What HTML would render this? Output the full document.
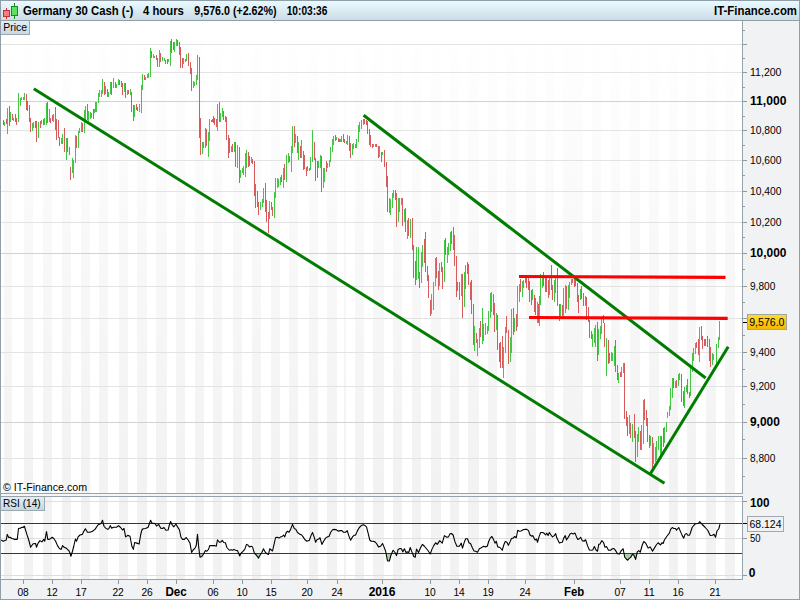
<!DOCTYPE html>
<html><head><meta charset="utf-8"><title>Germany 30 Cash</title>
<style>html,body{margin:0;padding:0;background:#f0f2f4}body{width:800px;height:600px;overflow:hidden;position:relative;font-family:"Liberation Sans",Arial,sans-serif}</style>
</head><body>
<svg width="800" height="600" viewBox="0 0 800 600" style="position:absolute;left:0;top:0" shape-rendering="crispEdges" font-family="Liberation Sans, Arial, sans-serif">
<defs>
<linearGradient id="hg" x1="0" y1="0" x2="0" y2="1"><stop offset="0" stop-color="#e9faff"/><stop offset="1" stop-color="#cbdce5"/></linearGradient>
<linearGradient id="lg" x1="0" y1="0" x2="0" y2="1"><stop offset="0" stop-color="#e2eef4"/><stop offset="1" stop-color="#c6d6de"/></linearGradient>
<linearGradient id="yg" x1="0" y1="0" x2="0" y2="1"><stop offset="0" stop-color="#ffdc30"/><stop offset="1" stop-color="#f2b800"/></linearGradient>
<linearGradient id="sg" x1="0" y1="0" x2="0" y2="1"><stop offset="0" stop-color="#ffffff"/><stop offset="0.5" stop-color="#f8f8f8"/><stop offset="1" stop-color="#f2f2f2"/></linearGradient>
<clipPath id="cp"><rect x="1" y="21" width="741" height="472"/></clipPath>
<clipPath id="cr"><rect x="1" y="497" width="741" height="82"/></clipPath>
<clipPath id="c30"><rect x="1" y="553.5" width="741" height="25"/></clipPath>
</defs>
<rect x="0" y="0" width="800" height="600" fill="#f0f2f4"/>
<rect x="0" y="1" width="800" height="19" fill="url(#hg)"/>
<rect x="0" y="0" width="800" height="1" fill="#909fa7"/>
<rect x="0" y="20" width="800" height="1" fill="#909fa7"/>
<rect x="1" y="21" width="741" height="472" fill="#fff"/>
<rect x="1" y="497" width="741" height="82" fill="#fff"/>
<rect x="4" y="21" width="8" height="472" fill="url(#sg)"/>
<rect x="4" y="497" width="8" height="82" fill="#f2f2f2"/>
<rect x="24" y="21" width="9" height="472" fill="url(#sg)"/>
<rect x="24" y="497" width="9" height="82" fill="#f2f2f2"/>
<rect x="43" y="21" width="9" height="472" fill="url(#sg)"/>
<rect x="43" y="497" width="9" height="82" fill="#f2f2f2"/>
<rect x="62" y="21" width="9" height="472" fill="url(#sg)"/>
<rect x="62" y="497" width="9" height="82" fill="#f2f2f2"/>
<rect x="81" y="21" width="9" height="472" fill="url(#sg)"/>
<rect x="81" y="497" width="9" height="82" fill="#f2f2f2"/>
<rect x="99" y="21" width="9" height="472" fill="url(#sg)"/>
<rect x="99" y="497" width="9" height="82" fill="#f2f2f2"/>
<rect x="119" y="21" width="9" height="472" fill="url(#sg)"/>
<rect x="119" y="497" width="9" height="82" fill="#f2f2f2"/>
<rect x="137" y="21" width="10" height="472" fill="url(#sg)"/>
<rect x="137" y="497" width="10" height="82" fill="#f2f2f2"/>
<rect x="156" y="21" width="11" height="472" fill="url(#sg)"/>
<rect x="156" y="497" width="11" height="82" fill="#f2f2f2"/>
<rect x="176" y="21" width="9" height="472" fill="url(#sg)"/>
<rect x="176" y="497" width="9" height="82" fill="#f2f2f2"/>
<rect x="195" y="21" width="9" height="472" fill="url(#sg)"/>
<rect x="195" y="497" width="9" height="82" fill="#f2f2f2"/>
<rect x="213" y="21" width="9" height="472" fill="url(#sg)"/>
<rect x="213" y="497" width="9" height="82" fill="#f2f2f2"/>
<rect x="233" y="21" width="9" height="472" fill="url(#sg)"/>
<rect x="233" y="497" width="9" height="82" fill="#f2f2f2"/>
<rect x="252" y="21" width="9" height="472" fill="url(#sg)"/>
<rect x="252" y="497" width="9" height="82" fill="#f2f2f2"/>
<rect x="271" y="21" width="9" height="472" fill="url(#sg)"/>
<rect x="271" y="497" width="9" height="82" fill="#f2f2f2"/>
<rect x="289" y="21" width="9" height="472" fill="url(#sg)"/>
<rect x="289" y="497" width="9" height="82" fill="#f2f2f2"/>
<rect x="309" y="21" width="9" height="472" fill="url(#sg)"/>
<rect x="309" y="497" width="9" height="82" fill="#f2f2f2"/>
<rect x="327" y="21" width="10" height="472" fill="url(#sg)"/>
<rect x="327" y="497" width="10" height="82" fill="#f2f2f2"/>
<rect x="344" y="21" width="2" height="472" fill="url(#sg)"/>
<rect x="344" y="497" width="2" height="82" fill="#f2f2f2"/>
<rect x="355" y="21" width="9" height="472" fill="url(#sg)"/>
<rect x="355" y="497" width="9" height="82" fill="#f2f2f2"/>
<rect x="373" y="21" width="11" height="472" fill="url(#sg)"/>
<rect x="373" y="497" width="11" height="82" fill="#f2f2f2"/>
<rect x="393" y="21" width="9" height="472" fill="url(#sg)"/>
<rect x="393" y="497" width="9" height="82" fill="#f2f2f2"/>
<rect x="412" y="21" width="9" height="472" fill="url(#sg)"/>
<rect x="412" y="497" width="9" height="82" fill="#f2f2f2"/>
<rect x="431" y="21" width="10" height="472" fill="url(#sg)"/>
<rect x="431" y="497" width="10" height="82" fill="#f2f2f2"/>
<rect x="450" y="21" width="9" height="472" fill="url(#sg)"/>
<rect x="450" y="497" width="9" height="82" fill="#f2f2f2"/>
<rect x="468" y="21" width="11" height="472" fill="url(#sg)"/>
<rect x="468" y="497" width="11" height="82" fill="#f2f2f2"/>
<rect x="488" y="21" width="9" height="472" fill="url(#sg)"/>
<rect x="488" y="497" width="9" height="82" fill="#f2f2f2"/>
<rect x="506" y="21" width="10" height="472" fill="url(#sg)"/>
<rect x="506" y="497" width="10" height="82" fill="#f2f2f2"/>
<rect x="526" y="21" width="10" height="472" fill="url(#sg)"/>
<rect x="526" y="497" width="10" height="82" fill="#f2f2f2"/>
<rect x="545" y="21" width="9" height="472" fill="url(#sg)"/>
<rect x="545" y="497" width="9" height="82" fill="#f2f2f2"/>
<rect x="563" y="21" width="20" height="472" fill="url(#sg)"/>
<rect x="563" y="497" width="20" height="82" fill="#f2f2f2"/>
<rect x="592" y="21" width="9" height="472" fill="url(#sg)"/>
<rect x="592" y="497" width="9" height="82" fill="#f2f2f2"/>
<rect x="611" y="21" width="9" height="472" fill="url(#sg)"/>
<rect x="611" y="497" width="9" height="82" fill="#f2f2f2"/>
<rect x="630" y="21" width="10" height="472" fill="url(#sg)"/>
<rect x="630" y="497" width="10" height="82" fill="#f2f2f2"/>
<rect x="649" y="21" width="10" height="472" fill="url(#sg)"/>
<rect x="649" y="497" width="10" height="82" fill="#f2f2f2"/>
<rect x="669" y="21" width="9" height="472" fill="url(#sg)"/>
<rect x="669" y="497" width="9" height="82" fill="#f2f2f2"/>
<rect x="687" y="21" width="9" height="472" fill="url(#sg)"/>
<rect x="687" y="497" width="9" height="82" fill="#f2f2f2"/>
<rect x="706" y="21" width="10" height="472" fill="url(#sg)"/>
<rect x="706" y="497" width="10" height="82" fill="#f2f2f2"/>
<rect x="725" y="21" width="10" height="472" fill="url(#sg)"/>
<rect x="725" y="497" width="10" height="82" fill="#f2f2f2"/>
<rect x="1" y="458" width="741" height="1" fill="#e3e3e3"/>
<rect x="1" y="422" width="741" height="1" fill="#d2d2d2"/>
<rect x="1" y="386" width="741" height="1" fill="#e3e3e3"/>
<rect x="1" y="352" width="741" height="1" fill="#e3e3e3"/>
<rect x="1" y="318" width="741" height="1" fill="#e3e3e3"/>
<rect x="1" y="286" width="741" height="1" fill="#e3e3e3"/>
<rect x="1" y="253" width="741" height="1" fill="#d2d2d2"/>
<rect x="1" y="222" width="741" height="1" fill="#e3e3e3"/>
<rect x="1" y="191" width="741" height="1" fill="#e3e3e3"/>
<rect x="1" y="160" width="741" height="1" fill="#e3e3e3"/>
<rect x="1" y="130" width="741" height="1" fill="#e3e3e3"/>
<rect x="1" y="101" width="741" height="1" fill="#d2d2d2"/>
<rect x="1" y="72" width="741" height="1" fill="#e3e3e3"/>
<rect x="1" y="44" width="741" height="1" fill="#e3e3e3"/>
<rect x="1" y="501" width="741" height="1" fill="#dedede"/>
<rect x="1" y="538" width="741" height="1" fill="#dedede"/>
<rect x="1" y="575" width="741" height="1" fill="#dedede"/>
<rect x="742" y="21" width="1" height="473" fill="#97a3aa"/>
<rect x="0" y="493" width="743" height="1" fill="#97a3aa"/>
<rect x="0" y="494" width="743" height="2" fill="#f4f6f7"/>
<rect x="0" y="496" width="743" height="1" fill="#97a3aa"/>
<rect x="742" y="496" width="1" height="84" fill="#97a3aa"/>
<rect x="0" y="579" width="743" height="1" fill="#97a3aa"/>
<g clip-path="url(#cp)">
<rect x="3" y="120" width="1" height="5" fill="#d85a5a"/>
<rect x="4" y="122" width="1" height="4" fill="#41c741"/>
<rect x="6" y="119" width="1" height="5" fill="#d85a5a"/>
<rect x="7" y="108" width="1" height="26" fill="#41c741"/>
<rect x="9" y="106" width="1" height="20" fill="#d85a5a"/>
<rect x="10" y="112" width="1" height="10" fill="#41c741"/>
<rect x="12" y="114" width="1" height="6" fill="#d85a5a"/>
<rect x="13" y="118" width="1" height="3" fill="#41c741"/>
<rect x="15" y="114" width="1" height="8" fill="#d85a5a"/>
<rect x="16" y="118" width="1" height="7" fill="#d85a5a"/>
<rect x="18" y="93" width="1" height="29" fill="#41c741"/>
<rect x="20" y="98" width="1" height="8" fill="#41c741"/>
<rect x="21" y="97" width="1" height="3" fill="#41c741"/>
<rect x="23" y="97" width="1" height="3" fill="#41c741"/>
<rect x="24" y="93" width="1" height="7" fill="#41c741"/>
<rect x="26" y="94" width="1" height="16" fill="#d85a5a"/>
<rect x="27" y="101" width="1" height="10" fill="#d85a5a"/>
<rect x="29" y="105" width="1" height="17" fill="#d85a5a"/>
<rect x="30" y="118" width="1" height="14" fill="#d85a5a"/>
<rect x="32" y="123" width="1" height="8" fill="#41c741"/>
<rect x="33" y="122" width="1" height="6" fill="#41c741"/>
<rect x="35" y="121" width="1" height="7" fill="#d85a5a"/>
<rect x="36" y="121" width="1" height="21" fill="#d85a5a"/>
<rect x="38" y="122" width="1" height="16" fill="#41c741"/>
<rect x="40" y="121" width="1" height="7" fill="#d85a5a"/>
<rect x="41" y="120" width="1" height="4" fill="#41c741"/>
<rect x="43" y="119" width="1" height="6" fill="#d85a5a"/>
<rect x="44" y="118" width="1" height="7" fill="#41c741"/>
<rect x="46" y="103" width="1" height="22" fill="#41c741"/>
<rect x="47" y="102" width="1" height="21" fill="#d85a5a"/>
<rect x="49" y="109" width="1" height="13" fill="#41c741"/>
<rect x="50" y="118" width="1" height="5" fill="#d85a5a"/>
<rect x="52" y="115" width="1" height="6" fill="#d85a5a"/>
<rect x="53" y="114" width="1" height="8" fill="#41c741"/>
<rect x="55" y="107" width="1" height="23" fill="#d85a5a"/>
<rect x="56" y="119" width="1" height="21" fill="#d85a5a"/>
<rect x="58" y="120" width="1" height="18" fill="#d85a5a"/>
<rect x="59" y="137" width="1" height="9" fill="#d85a5a"/>
<rect x="61" y="138" width="1" height="6" fill="#41c741"/>
<rect x="62" y="134" width="1" height="10" fill="#41c741"/>
<rect x="64" y="128" width="1" height="24" fill="#d85a5a"/>
<rect x="66" y="138" width="1" height="22" fill="#41c741"/>
<rect x="67" y="138" width="1" height="14" fill="#d85a5a"/>
<rect x="69" y="147" width="1" height="8" fill="#d85a5a"/>
<rect x="70" y="167" width="1" height="13" fill="#d85a5a"/>
<rect x="72" y="158" width="1" height="15" fill="#41c741"/>
<rect x="73" y="160" width="1" height="18" fill="#41c741"/>
<rect x="75" y="135" width="1" height="28" fill="#41c741"/>
<rect x="76" y="136" width="1" height="12" fill="#d85a5a"/>
<rect x="78" y="131" width="1" height="17" fill="#41c741"/>
<rect x="79" y="128" width="1" height="5" fill="#41c741"/>
<rect x="81" y="122" width="1" height="10" fill="#41c741"/>
<rect x="82" y="123" width="1" height="9" fill="#d85a5a"/>
<rect x="84" y="110" width="1" height="23" fill="#41c741"/>
<rect x="85" y="106" width="1" height="14" fill="#41c741"/>
<rect x="87" y="104" width="1" height="16" fill="#d85a5a"/>
<rect x="88" y="111" width="1" height="10" fill="#41c741"/>
<rect x="90" y="112" width="1" height="7" fill="#41c741"/>
<rect x="91" y="113" width="1" height="5" fill="#41c741"/>
<rect x="93" y="109" width="1" height="10" fill="#d85a5a"/>
<rect x="94" y="109" width="1" height="4" fill="#41c741"/>
<rect x="95" y="102" width="1" height="10" fill="#41c741"/>
<rect x="96" y="102" width="1" height="10" fill="#41c741"/>
<rect x="98" y="93" width="1" height="10" fill="#41c741"/>
<rect x="99" y="90" width="1" height="7" fill="#41c741"/>
<rect x="101" y="90" width="1" height="7" fill="#41c741"/>
<rect x="102" y="79" width="1" height="15" fill="#41c741"/>
<rect x="104" y="82" width="1" height="13" fill="#d85a5a"/>
<rect x="105" y="86" width="1" height="8" fill="#41c741"/>
<rect x="107" y="89" width="1" height="8" fill="#d85a5a"/>
<rect x="108" y="92" width="1" height="5" fill="#41c741"/>
<rect x="110" y="82" width="1" height="12" fill="#41c741"/>
<rect x="111" y="82" width="1" height="13" fill="#d85a5a"/>
<rect x="113" y="78" width="1" height="10" fill="#41c741"/>
<rect x="115" y="82" width="1" height="6" fill="#d85a5a"/>
<rect x="116" y="84" width="1" height="4" fill="#41c741"/>
<rect x="118" y="79" width="1" height="6" fill="#41c741"/>
<rect x="119" y="80" width="1" height="5" fill="#d85a5a"/>
<rect x="121" y="81" width="1" height="6" fill="#d85a5a"/>
<rect x="122" y="83" width="1" height="12" fill="#d85a5a"/>
<rect x="124" y="83" width="1" height="9" fill="#41c741"/>
<rect x="125" y="83" width="1" height="15" fill="#d85a5a"/>
<rect x="127" y="90" width="1" height="5" fill="#41c741"/>
<rect x="128" y="90" width="1" height="4" fill="#d85a5a"/>
<rect x="130" y="89" width="1" height="6" fill="#41c741"/>
<rect x="131" y="92" width="1" height="20" fill="#d85a5a"/>
<rect x="133" y="105" width="1" height="16" fill="#d85a5a"/>
<rect x="134" y="105" width="1" height="12" fill="#41c741"/>
<rect x="136" y="104" width="1" height="6" fill="#d85a5a"/>
<rect x="137" y="107" width="1" height="4" fill="#d85a5a"/>
<rect x="139" y="104" width="1" height="8" fill="#41c741"/>
<rect x="141" y="85" width="1" height="28" fill="#41c741"/>
<rect x="142" y="74" width="1" height="16" fill="#41c741"/>
<rect x="144" y="75" width="1" height="5" fill="#d85a5a"/>
<rect x="145" y="77" width="1" height="3" fill="#41c741"/>
<rect x="147" y="74" width="1" height="4" fill="#41c741"/>
<rect x="148" y="73" width="1" height="5" fill="#41c741"/>
<rect x="150" y="48" width="1" height="29" fill="#41c741"/>
<rect x="151" y="51" width="1" height="7" fill="#d85a5a"/>
<rect x="153" y="54" width="1" height="4" fill="#41c741"/>
<rect x="154" y="56" width="1" height="2" fill="#41c741"/>
<rect x="156" y="55" width="1" height="5" fill="#d85a5a"/>
<rect x="157" y="58" width="1" height="9" fill="#d85a5a"/>
<rect x="159" y="50" width="1" height="17" fill="#41c741"/>
<rect x="160" y="53" width="1" height="9" fill="#d85a5a"/>
<rect x="162" y="57" width="1" height="4" fill="#41c741"/>
<rect x="164" y="58" width="1" height="3" fill="#41c741"/>
<rect x="165" y="60" width="1" height="4" fill="#d85a5a"/>
<rect x="167" y="59" width="1" height="5" fill="#d85a5a"/>
<rect x="168" y="59" width="1" height="3" fill="#41c741"/>
<rect x="170" y="41" width="1" height="25" fill="#41c741"/>
<rect x="171" y="39" width="1" height="14" fill="#d85a5a"/>
<rect x="173" y="42" width="1" height="8" fill="#d85a5a"/>
<rect x="174" y="42" width="1" height="10" fill="#41c741"/>
<rect x="176" y="39" width="1" height="7" fill="#41c741"/>
<rect x="177" y="40" width="1" height="6" fill="#d85a5a"/>
<rect x="179" y="42" width="1" height="13" fill="#d85a5a"/>
<rect x="180" y="47" width="1" height="21" fill="#d85a5a"/>
<rect x="182" y="58" width="1" height="10" fill="#d85a5a"/>
<rect x="183" y="58" width="1" height="6" fill="#41c741"/>
<rect x="185" y="59" width="1" height="3" fill="#41c741"/>
<rect x="186" y="54" width="1" height="7" fill="#41c741"/>
<rect x="188" y="53" width="1" height="13" fill="#d85a5a"/>
<rect x="190" y="62" width="1" height="12" fill="#d85a5a"/>
<rect x="191" y="68" width="1" height="23" fill="#d85a5a"/>
<rect x="193" y="81" width="1" height="7" fill="#41c741"/>
<rect x="194" y="82" width="1" height="4" fill="#41c741"/>
<rect x="196" y="75" width="1" height="10" fill="#41c741"/>
<rect x="197" y="55" width="1" height="25" fill="#41c741"/>
<rect x="199" y="57" width="1" height="81" fill="#d85a5a"/>
<rect x="200" y="118" width="1" height="37" fill="#d85a5a"/>
<rect x="202" y="142" width="1" height="12" fill="#41c741"/>
<rect x="203" y="142" width="1" height="6" fill="#41c741"/>
<rect x="205" y="128" width="1" height="20" fill="#41c741"/>
<rect x="206" y="129" width="1" height="17" fill="#d85a5a"/>
<rect x="208" y="132" width="1" height="25" fill="#41c741"/>
<rect x="209" y="119" width="1" height="22" fill="#41c741"/>
<rect x="211" y="120" width="1" height="2" fill="#d85a5a"/>
<rect x="212" y="119" width="1" height="3" fill="#d85a5a"/>
<rect x="213" y="116" width="1" height="7" fill="#d85a5a"/>
<rect x="214" y="118" width="1" height="7" fill="#d85a5a"/>
<rect x="216" y="119" width="1" height="8" fill="#d85a5a"/>
<rect x="217" y="104" width="1" height="27" fill="#41c741"/>
<rect x="219" y="102" width="1" height="20" fill="#d85a5a"/>
<rect x="220" y="113" width="1" height="9" fill="#41c741"/>
<rect x="222" y="108" width="1" height="9" fill="#41c741"/>
<rect x="223" y="111" width="1" height="9" fill="#d85a5a"/>
<rect x="225" y="116" width="1" height="6" fill="#d85a5a"/>
<rect x="226" y="117" width="1" height="23" fill="#d85a5a"/>
<rect x="228" y="135" width="1" height="23" fill="#d85a5a"/>
<rect x="229" y="138" width="1" height="15" fill="#d85a5a"/>
<rect x="231" y="146" width="1" height="6" fill="#41c741"/>
<rect x="232" y="144" width="1" height="8" fill="#d85a5a"/>
<rect x="234" y="142" width="1" height="10" fill="#41c741"/>
<rect x="235" y="142" width="1" height="25" fill="#d85a5a"/>
<rect x="237" y="145" width="1" height="23" fill="#41c741"/>
<rect x="239" y="147" width="1" height="36" fill="#d85a5a"/>
<rect x="240" y="170" width="1" height="8" fill="#41c741"/>
<rect x="242" y="168" width="1" height="5" fill="#41c741"/>
<rect x="243" y="166" width="1" height="9" fill="#41c741"/>
<rect x="245" y="153" width="1" height="24" fill="#41c741"/>
<rect x="246" y="150" width="1" height="18" fill="#41c741"/>
<rect x="248" y="152" width="1" height="15" fill="#d85a5a"/>
<rect x="249" y="156" width="1" height="10" fill="#d85a5a"/>
<rect x="251" y="157" width="1" height="6" fill="#41c741"/>
<rect x="252" y="159" width="1" height="5" fill="#d85a5a"/>
<rect x="254" y="161" width="1" height="35" fill="#d85a5a"/>
<rect x="255" y="184" width="1" height="24" fill="#d85a5a"/>
<rect x="257" y="191" width="1" height="16" fill="#d85a5a"/>
<rect x="258" y="202" width="1" height="13" fill="#d85a5a"/>
<rect x="260" y="202" width="1" height="8" fill="#41c741"/>
<rect x="262" y="199" width="1" height="8" fill="#41c741"/>
<rect x="263" y="188" width="1" height="15" fill="#41c741"/>
<rect x="265" y="183" width="1" height="29" fill="#d85a5a"/>
<rect x="266" y="200" width="1" height="22" fill="#d85a5a"/>
<rect x="268" y="212" width="1" height="21" fill="#d85a5a"/>
<rect x="269" y="201" width="1" height="18" fill="#41c741"/>
<rect x="271" y="202" width="1" height="8" fill="#d85a5a"/>
<rect x="272" y="207" width="1" height="9" fill="#d85a5a"/>
<rect x="274" y="192" width="1" height="26" fill="#41c741"/>
<rect x="275" y="178" width="1" height="20" fill="#41c741"/>
<rect x="277" y="178" width="1" height="10" fill="#41c741"/>
<rect x="278" y="179" width="1" height="8" fill="#41c741"/>
<rect x="280" y="177" width="1" height="8" fill="#41c741"/>
<rect x="281" y="175" width="1" height="7" fill="#d85a5a"/>
<rect x="283" y="168" width="1" height="20" fill="#41c741"/>
<rect x="284" y="164" width="1" height="16" fill="#d85a5a"/>
<rect x="286" y="155" width="1" height="27" fill="#41c741"/>
<rect x="288" y="153" width="1" height="10" fill="#41c741"/>
<rect x="289" y="156" width="1" height="6" fill="#d85a5a"/>
<rect x="291" y="146" width="1" height="26" fill="#41c741"/>
<rect x="292" y="126" width="1" height="27" fill="#41c741"/>
<rect x="294" y="126" width="1" height="21" fill="#d85a5a"/>
<rect x="295" y="134" width="1" height="9" fill="#41c741"/>
<rect x="297" y="136" width="1" height="17" fill="#d85a5a"/>
<rect x="298" y="142" width="1" height="18" fill="#41c741"/>
<rect x="300" y="146" width="1" height="12" fill="#d85a5a"/>
<rect x="301" y="140" width="1" height="18" fill="#41c741"/>
<rect x="303" y="151" width="1" height="19" fill="#d85a5a"/>
<rect x="304" y="155" width="1" height="14" fill="#d85a5a"/>
<rect x="306" y="167" width="1" height="9" fill="#d85a5a"/>
<rect x="307" y="166" width="1" height="5" fill="#41c741"/>
<rect x="309" y="168" width="1" height="3" fill="#41c741"/>
<rect x="310" y="157" width="1" height="13" fill="#41c741"/>
<rect x="312" y="130" width="1" height="32" fill="#41c741"/>
<rect x="314" y="142" width="1" height="18" fill="#d85a5a"/>
<rect x="315" y="158" width="1" height="23" fill="#d85a5a"/>
<rect x="317" y="161" width="1" height="17" fill="#d85a5a"/>
<rect x="318" y="161" width="1" height="7" fill="#41c741"/>
<rect x="320" y="155" width="1" height="13" fill="#41c741"/>
<rect x="321" y="156" width="1" height="36" fill="#d85a5a"/>
<rect x="323" y="168" width="1" height="20" fill="#41c741"/>
<rect x="324" y="168" width="1" height="14" fill="#41c741"/>
<rect x="326" y="161" width="1" height="11" fill="#d85a5a"/>
<rect x="327" y="163" width="1" height="5" fill="#41c741"/>
<rect x="329" y="160" width="1" height="7" fill="#41c741"/>
<rect x="330" y="147" width="1" height="15" fill="#41c741"/>
<rect x="332" y="139" width="1" height="13" fill="#41c741"/>
<rect x="333" y="136" width="1" height="9" fill="#41c741"/>
<rect x="335" y="135" width="1" height="6" fill="#d85a5a"/>
<rect x="336" y="137" width="1" height="3" fill="#41c741"/>
<rect x="338" y="138" width="1" height="4" fill="#d85a5a"/>
<rect x="339" y="139" width="1" height="3" fill="#d85a5a"/>
<rect x="340" y="139" width="1" height="3" fill="#41c741"/>
<rect x="341" y="136" width="1" height="6" fill="#41c741"/>
<rect x="343" y="134" width="1" height="8" fill="#d85a5a"/>
<rect x="344" y="139" width="1" height="4" fill="#d85a5a"/>
<rect x="346" y="141" width="1" height="3" fill="#41c741"/>
<rect x="347" y="135" width="1" height="10" fill="#41c741"/>
<rect x="349" y="136" width="1" height="15" fill="#d85a5a"/>
<rect x="350" y="143" width="1" height="15" fill="#d85a5a"/>
<rect x="352" y="144" width="1" height="11" fill="#41c741"/>
<rect x="353" y="143" width="1" height="6" fill="#41c741"/>
<rect x="355" y="144" width="1" height="4" fill="#41c741"/>
<rect x="356" y="139" width="1" height="9" fill="#41c741"/>
<rect x="358" y="125" width="1" height="17" fill="#41c741"/>
<rect x="359" y="122" width="1" height="10" fill="#41c741"/>
<rect x="361" y="120" width="1" height="9" fill="#41c741"/>
<rect x="363" y="119" width="1" height="6" fill="#41c741"/>
<rect x="364" y="119" width="1" height="5" fill="#d85a5a"/>
<rect x="366" y="120" width="1" height="5" fill="#d85a5a"/>
<rect x="367" y="121" width="1" height="13" fill="#d85a5a"/>
<rect x="369" y="129" width="1" height="16" fill="#d85a5a"/>
<rect x="370" y="135" width="1" height="12" fill="#d85a5a"/>
<rect x="372" y="144" width="1" height="4" fill="#d85a5a"/>
<rect x="373" y="144" width="1" height="3" fill="#41c741"/>
<rect x="375" y="144" width="1" height="3" fill="#41c741"/>
<rect x="376" y="144" width="1" height="3" fill="#d85a5a"/>
<rect x="378" y="146" width="1" height="12" fill="#d85a5a"/>
<rect x="379" y="146" width="1" height="11" fill="#41c741"/>
<rect x="381" y="152" width="1" height="10" fill="#d85a5a"/>
<rect x="382" y="152" width="1" height="3" fill="#41c741"/>
<rect x="384" y="150" width="1" height="17" fill="#d85a5a"/>
<rect x="386" y="162" width="1" height="25" fill="#d85a5a"/>
<rect x="387" y="176" width="1" height="36" fill="#d85a5a"/>
<rect x="389" y="198" width="1" height="15" fill="#41c741"/>
<rect x="390" y="199" width="1" height="16" fill="#41c741"/>
<rect x="392" y="193" width="1" height="15" fill="#41c741"/>
<rect x="393" y="190" width="1" height="8" fill="#41c741"/>
<rect x="395" y="190" width="1" height="10" fill="#d85a5a"/>
<rect x="396" y="193" width="1" height="34" fill="#d85a5a"/>
<rect x="398" y="198" width="1" height="24" fill="#41c741"/>
<rect x="399" y="198" width="1" height="14" fill="#41c741"/>
<rect x="401" y="198" width="1" height="7" fill="#41c741"/>
<rect x="402" y="198" width="1" height="28" fill="#d85a5a"/>
<rect x="404" y="209" width="1" height="13" fill="#41c741"/>
<rect x="405" y="208" width="1" height="24" fill="#d85a5a"/>
<rect x="407" y="220" width="1" height="19" fill="#41c741"/>
<rect x="408" y="218" width="1" height="18" fill="#d85a5a"/>
<rect x="410" y="219" width="1" height="19" fill="#41c741"/>
<rect x="412" y="218" width="1" height="32" fill="#d85a5a"/>
<rect x="413" y="245" width="1" height="33" fill="#d85a5a"/>
<rect x="415" y="261" width="1" height="24" fill="#d85a5a"/>
<rect x="416" y="247" width="1" height="33" fill="#41c741"/>
<rect x="418" y="247" width="1" height="32" fill="#41c741"/>
<rect x="419" y="272" width="1" height="16" fill="#d85a5a"/>
<rect x="421" y="252" width="1" height="31" fill="#41c741"/>
<rect x="422" y="245" width="1" height="22" fill="#41c741"/>
<rect x="424" y="239" width="1" height="24" fill="#d85a5a"/>
<rect x="425" y="232" width="1" height="40" fill="#d85a5a"/>
<rect x="427" y="266" width="1" height="15" fill="#d85a5a"/>
<rect x="428" y="275" width="1" height="23" fill="#d85a5a"/>
<rect x="430" y="300" width="1" height="16" fill="#d85a5a"/>
<rect x="431" y="294" width="1" height="20" fill="#41c741"/>
<rect x="433" y="282" width="1" height="28" fill="#41c741"/>
<rect x="435" y="258" width="1" height="28" fill="#41c741"/>
<rect x="436" y="257" width="1" height="21" fill="#d85a5a"/>
<rect x="438" y="271" width="1" height="19" fill="#d85a5a"/>
<rect x="439" y="263" width="1" height="23" fill="#41c741"/>
<rect x="441" y="262" width="1" height="10" fill="#d85a5a"/>
<rect x="442" y="267" width="1" height="22" fill="#d85a5a"/>
<rect x="444" y="240" width="1" height="42" fill="#41c741"/>
<rect x="445" y="238" width="1" height="17" fill="#d85a5a"/>
<rect x="447" y="247" width="1" height="16" fill="#41c741"/>
<rect x="448" y="243" width="1" height="12" fill="#41c741"/>
<rect x="450" y="232" width="1" height="19" fill="#41c741"/>
<rect x="451" y="231" width="1" height="13" fill="#d85a5a"/>
<rect x="453" y="227" width="1" height="23" fill="#d85a5a"/>
<rect x="454" y="235" width="1" height="31" fill="#d85a5a"/>
<rect x="456" y="256" width="1" height="41" fill="#d85a5a"/>
<rect x="457" y="282" width="1" height="9" fill="#d85a5a"/>
<rect x="459" y="282" width="1" height="18" fill="#d85a5a"/>
<rect x="461" y="274" width="1" height="22" fill="#41c741"/>
<rect x="462" y="274" width="1" height="44" fill="#d85a5a"/>
<rect x="464" y="272" width="1" height="35" fill="#41c741"/>
<rect x="465" y="265" width="1" height="24" fill="#41c741"/>
<rect x="467" y="262" width="1" height="12" fill="#d85a5a"/>
<rect x="468" y="264" width="1" height="21" fill="#d85a5a"/>
<rect x="470" y="282" width="1" height="18" fill="#d85a5a"/>
<rect x="471" y="280" width="1" height="34" fill="#d85a5a"/>
<rect x="473" y="304" width="1" height="41" fill="#d85a5a"/>
<rect x="474" y="326" width="1" height="25" fill="#41c741"/>
<rect x="476" y="333" width="1" height="10" fill="#d85a5a"/>
<rect x="477" y="339" width="1" height="17" fill="#41c741"/>
<rect x="479" y="328" width="1" height="20" fill="#41c741"/>
<rect x="480" y="321" width="1" height="16" fill="#d85a5a"/>
<rect x="482" y="308" width="1" height="36" fill="#41c741"/>
<rect x="483" y="324" width="1" height="17" fill="#41c741"/>
<rect x="485" y="323" width="1" height="12" fill="#41c741"/>
<rect x="487" y="326" width="1" height="8" fill="#41c741"/>
<rect x="488" y="311" width="1" height="20" fill="#41c741"/>
<rect x="490" y="293" width="1" height="25" fill="#41c741"/>
<rect x="491" y="292" width="1" height="20" fill="#41c741"/>
<rect x="493" y="294" width="1" height="21" fill="#d85a5a"/>
<rect x="494" y="303" width="1" height="29" fill="#d85a5a"/>
<rect x="496" y="313" width="1" height="17" fill="#41c741"/>
<rect x="497" y="315" width="1" height="35" fill="#d85a5a"/>
<rect x="499" y="343" width="1" height="19" fill="#d85a5a"/>
<rect x="500" y="342" width="1" height="26" fill="#d85a5a"/>
<rect x="502" y="336" width="1" height="32" fill="#d85a5a"/>
<rect x="503" y="347" width="1" height="31" fill="#41c741"/>
<rect x="505" y="327" width="1" height="26" fill="#41c741"/>
<rect x="506" y="316" width="1" height="17" fill="#d85a5a"/>
<rect x="508" y="330" width="1" height="34" fill="#d85a5a"/>
<rect x="510" y="337" width="1" height="25" fill="#41c741"/>
<rect x="511" y="309" width="1" height="44" fill="#41c741"/>
<rect x="513" y="308" width="1" height="27" fill="#d85a5a"/>
<rect x="514" y="318" width="1" height="14" fill="#41c741"/>
<rect x="516" y="314" width="1" height="17" fill="#d85a5a"/>
<rect x="517" y="286" width="1" height="41" fill="#41c741"/>
<rect x="519" y="284" width="1" height="18" fill="#41c741"/>
<rect x="520" y="279" width="1" height="13" fill="#d85a5a"/>
<rect x="522" y="281" width="1" height="16" fill="#41c741"/>
<rect x="523" y="280" width="1" height="8" fill="#41c741"/>
<rect x="525" y="278" width="1" height="5" fill="#d85a5a"/>
<rect x="526" y="277" width="1" height="11" fill="#d85a5a"/>
<rect x="528" y="278" width="1" height="12" fill="#d85a5a"/>
<rect x="529" y="281" width="1" height="21" fill="#d85a5a"/>
<rect x="531" y="290" width="1" height="15" fill="#d85a5a"/>
<rect x="532" y="289" width="1" height="11" fill="#41c741"/>
<rect x="534" y="295" width="1" height="17" fill="#d85a5a"/>
<rect x="535" y="298" width="1" height="17" fill="#d85a5a"/>
<rect x="537" y="302" width="1" height="21" fill="#41c741"/>
<rect x="538" y="304" width="1" height="19" fill="#d85a5a"/>
<rect x="539" y="296" width="1" height="30" fill="#41c741"/>
<rect x="540" y="274" width="1" height="31" fill="#41c741"/>
<rect x="542" y="277" width="1" height="11" fill="#41c741"/>
<rect x="543" y="272" width="1" height="14" fill="#d85a5a"/>
<rect x="545" y="278" width="1" height="14" fill="#d85a5a"/>
<rect x="546" y="278" width="1" height="14" fill="#d85a5a"/>
<rect x="548" y="280" width="1" height="18" fill="#d85a5a"/>
<rect x="549" y="278" width="1" height="17" fill="#41c741"/>
<rect x="551" y="265" width="1" height="25" fill="#d85a5a"/>
<rect x="552" y="285" width="1" height="15" fill="#d85a5a"/>
<rect x="554" y="280" width="1" height="22" fill="#41c741"/>
<rect x="555" y="278" width="1" height="15" fill="#41c741"/>
<rect x="557" y="268" width="1" height="38" fill="#d85a5a"/>
<rect x="559" y="304" width="1" height="17" fill="#d85a5a"/>
<rect x="560" y="304" width="1" height="12" fill="#41c741"/>
<rect x="562" y="305" width="1" height="11" fill="#d85a5a"/>
<rect x="563" y="288" width="1" height="28" fill="#41c741"/>
<rect x="565" y="285" width="1" height="28" fill="#41c741"/>
<rect x="566" y="286" width="1" height="23" fill="#d85a5a"/>
<rect x="568" y="285" width="1" height="25" fill="#41c741"/>
<rect x="569" y="282" width="1" height="16" fill="#41c741"/>
<rect x="571" y="279" width="1" height="6" fill="#41c741"/>
<rect x="572" y="279" width="1" height="4" fill="#d85a5a"/>
<rect x="574" y="279" width="1" height="8" fill="#d85a5a"/>
<rect x="575" y="280" width="1" height="6" fill="#d85a5a"/>
<rect x="577" y="283" width="1" height="19" fill="#d85a5a"/>
<rect x="578" y="295" width="1" height="18" fill="#d85a5a"/>
<rect x="580" y="289" width="1" height="11" fill="#41c741"/>
<rect x="581" y="286" width="1" height="13" fill="#d85a5a"/>
<rect x="583" y="293" width="1" height="13" fill="#d85a5a"/>
<rect x="585" y="296" width="1" height="10" fill="#41c741"/>
<rect x="586" y="297" width="1" height="23" fill="#d85a5a"/>
<rect x="588" y="307" width="1" height="15" fill="#d85a5a"/>
<rect x="589" y="320" width="1" height="18" fill="#d85a5a"/>
<rect x="591" y="331" width="1" height="8" fill="#d85a5a"/>
<rect x="592" y="334" width="1" height="13" fill="#41c741"/>
<rect x="594" y="328" width="1" height="15" fill="#41c741"/>
<rect x="595" y="325" width="1" height="22" fill="#41c741"/>
<rect x="597" y="322" width="1" height="39" fill="#d85a5a"/>
<rect x="598" y="329" width="1" height="26" fill="#41c741"/>
<rect x="600" y="326" width="1" height="13" fill="#41c741"/>
<rect x="601" y="319" width="1" height="15" fill="#41c741"/>
<rect x="603" y="315" width="1" height="8" fill="#d85a5a"/>
<rect x="604" y="323" width="1" height="24" fill="#d85a5a"/>
<rect x="606" y="338" width="1" height="38" fill="#41c741"/>
<rect x="608" y="340" width="1" height="24" fill="#d85a5a"/>
<rect x="609" y="353" width="1" height="10" fill="#d85a5a"/>
<rect x="611" y="352" width="1" height="9" fill="#41c741"/>
<rect x="612" y="353" width="1" height="8" fill="#41c741"/>
<rect x="614" y="346" width="1" height="20" fill="#41c741"/>
<rect x="615" y="340" width="1" height="32" fill="#d85a5a"/>
<rect x="617" y="365" width="1" height="15" fill="#d85a5a"/>
<rect x="618" y="373" width="1" height="10" fill="#41c741"/>
<rect x="620" y="372" width="1" height="5" fill="#d85a5a"/>
<rect x="621" y="367" width="1" height="10" fill="#41c741"/>
<rect x="623" y="363" width="1" height="10" fill="#41c741"/>
<rect x="624" y="363" width="1" height="56" fill="#d85a5a"/>
<rect x="626" y="411" width="1" height="15" fill="#d85a5a"/>
<rect x="627" y="417" width="1" height="19" fill="#d85a5a"/>
<rect x="629" y="415" width="1" height="19" fill="#41c741"/>
<rect x="630" y="423" width="1" height="15" fill="#d85a5a"/>
<rect x="632" y="424" width="1" height="18" fill="#41c741"/>
<rect x="634" y="414" width="1" height="24" fill="#d85a5a"/>
<rect x="635" y="431" width="1" height="31" fill="#d85a5a"/>
<rect x="637" y="434" width="1" height="23" fill="#41c741"/>
<rect x="638" y="427" width="1" height="15" fill="#41c741"/>
<rect x="640" y="431" width="1" height="19" fill="#d85a5a"/>
<rect x="641" y="425" width="1" height="25" fill="#41c741"/>
<rect x="643" y="400" width="1" height="44" fill="#41c741"/>
<rect x="644" y="399" width="1" height="21" fill="#d85a5a"/>
<rect x="646" y="410" width="1" height="16" fill="#d85a5a"/>
<rect x="647" y="418" width="1" height="24" fill="#d85a5a"/>
<rect x="649" y="435" width="1" height="13" fill="#d85a5a"/>
<rect x="650" y="436" width="1" height="10" fill="#41c741"/>
<rect x="652" y="437" width="1" height="31" fill="#d85a5a"/>
<rect x="653" y="443" width="1" height="21" fill="#41c741"/>
<rect x="655" y="447" width="1" height="15" fill="#41c741"/>
<rect x="656" y="441" width="1" height="19" fill="#41c741"/>
<rect x="658" y="436" width="1" height="14" fill="#41c741"/>
<rect x="660" y="436" width="1" height="20" fill="#41c741"/>
<rect x="661" y="436" width="1" height="18" fill="#d85a5a"/>
<rect x="663" y="428" width="1" height="19" fill="#d85a5a"/>
<rect x="664" y="427" width="1" height="16" fill="#41c741"/>
<rect x="666" y="422" width="1" height="10" fill="#41c741"/>
<rect x="667" y="412" width="1" height="6" fill="#41c741"/>
<rect x="669" y="406" width="1" height="10" fill="#41c741"/>
<rect x="670" y="388" width="1" height="22" fill="#41c741"/>
<rect x="672" y="378" width="1" height="20" fill="#41c741"/>
<rect x="673" y="378" width="1" height="10" fill="#d85a5a"/>
<rect x="675" y="381" width="1" height="7" fill="#41c741"/>
<rect x="676" y="380" width="1" height="8" fill="#d85a5a"/>
<rect x="678" y="374" width="1" height="12" fill="#41c741"/>
<rect x="679" y="373" width="1" height="7" fill="#41c741"/>
<rect x="681" y="374" width="1" height="28" fill="#d85a5a"/>
<rect x="683" y="391" width="1" height="15" fill="#d85a5a"/>
<rect x="684" y="387" width="1" height="21" fill="#41c741"/>
<rect x="686" y="385" width="1" height="7" fill="#41c741"/>
<rect x="687" y="379" width="1" height="15" fill="#d85a5a"/>
<rect x="689" y="392" width="1" height="6" fill="#d85a5a"/>
<rect x="690" y="368" width="1" height="28" fill="#41c741"/>
<rect x="692" y="353" width="1" height="19" fill="#41c741"/>
<rect x="693" y="348" width="1" height="13" fill="#41c741"/>
<rect x="695" y="343" width="1" height="11" fill="#41c741"/>
<rect x="696" y="342" width="1" height="6" fill="#d85a5a"/>
<rect x="698" y="339" width="1" height="16" fill="#d85a5a"/>
<rect x="699" y="327" width="1" height="35" fill="#41c741"/>
<rect x="701" y="326" width="1" height="14" fill="#d85a5a"/>
<rect x="702" y="336" width="1" height="13" fill="#d85a5a"/>
<rect x="704" y="339" width="1" height="7" fill="#d85a5a"/>
<rect x="705" y="339" width="1" height="7" fill="#d85a5a"/>
<rect x="707" y="336" width="1" height="11" fill="#d85a5a"/>
<rect x="709" y="339" width="1" height="22" fill="#d85a5a"/>
<rect x="710" y="347" width="1" height="20" fill="#d85a5a"/>
<rect x="712" y="353" width="1" height="12" fill="#41c741"/>
<rect x="713" y="354" width="1" height="6" fill="#41c741"/>
<rect x="716" y="344" width="1" height="21" fill="#41c741"/>
<rect x="718" y="337" width="1" height="11" fill="#41c741"/>
<rect x="719" y="321" width="1" height="19" fill="#41c741"/>
</g>
<g shape-rendering="geometricPrecision" stroke-linecap="butt" fill="none">
<line x1="33.8" y1="88.8" x2="664.5" y2="483.2" stroke="#007d00" stroke-width="3"/>
<line x1="363.6" y1="115.3" x2="705.6" y2="378" stroke="#007d00" stroke-width="3"/>
<line x1="650.4" y1="473.8" x2="728.2" y2="346.8" stroke="#007d00" stroke-width="3"/>
</g>
<line x1="519" y1="276.5" x2="725.5" y2="277.4" stroke="#ff0000" stroke-width="3.1" shape-rendering="geometricPrecision"/>
<line x1="529" y1="317.5" x2="727.7" y2="318.4" stroke="#ff0000" stroke-width="3.1" shape-rendering="geometricPrecision"/>
<g shape-rendering="geometricPrecision">
<path d="M1.25,553.5 L1.25,540.0 L3.12,541.25 L6.25,540.0 L7.25,534.38 L8.75,537.5 L10.0,537.25 L11.88,538.5 L15.0,539.38 L17.25,539.38 L18.5,528.5 L20.62,528.12 L21.88,527.25 L23.12,527.5 L24.38,526.25 L26.88,534.38 L28.75,540.0 L30.62,547.25 L33.12,543.75 L35.62,543.5 L36.5,547.25 L38.12,543.12 L40.0,540.62 L41.88,541.88 L43.75,539.38 L44.75,541.25 L46.5,531.5 L47.75,539.38 L49.38,539.38 L50.62,538.5 L52.25,537.25 L53.75,538.5 L55.62,541.25 L57.5,545.62 L59.38,548.5 L61.25,549.38 L62.5,545.62 L64.38,547.5 L66.25,548.12 L68.75,550.62 L70.0,553.12 L70.88,556.25 L72.5,551.25 L73.75,546.25 L75.38,539.0 L76.5,541.25 L78.12,536.88 L80.0,535.0 L82.25,534.38 L83.5,531.88 L85.38,528.75 L87.5,532.25 L90.0,532.25 L92.5,531.25 L95.0,529.38 L98.12,524.75 L100.0,524.0 L101.25,523.12 L102.5,520.25 L104.0,526.25 L105.62,528.12 L107.75,529.38 L108.75,528.75 L110.25,525.62 L111.5,528.12 L113.75,527.25 L116.5,527.25 L118.5,525.62 L120.62,527.5 L122.5,530.0 L124.0,528.5 L125.62,536.88 L127.75,535.38 L130.0,536.25 L131.88,546.25 L133.38,549.38 L134.62,542.5 L136.88,543.12 L139.12,544.0 L140.62,535.0 L141.88,530.0 L143.12,528.75 L145.62,528.5 L148.12,527.25 L149.38,523.75 L150.62,520.25 L151.88,523.12 L155.0,523.5 L156.5,526.0 L158.75,524.38 L160.62,528.12 L162.5,528.5 L164.0,527.5 L165.88,530.25 L168.12,530.0 L169.38,525.0 L170.62,521.5 L171.88,524.38 L173.75,526.88 L176.0,524.0 L177.5,526.88 L179.38,529.75 L181.0,537.25 L182.5,539.38 L184.38,539.38 L186.25,537.5 L188.12,540.0 L190.0,543.12 L191.62,552.5 L193.12,550.0 L195.0,548.12 L196.25,545.62 L197.5,534.38 L198.75,547.5 L200.0,557.25 L201.88,556.5 L203.75,553.75 L205.25,550.62 L206.88,551.25 L208.5,549.38 L209.75,545.62 L212.5,545.62 L215.0,545.62 L216.25,546.25 L217.5,539.75 L219.38,542.25 L221.0,541.88 L222.25,540.38 L223.75,542.5 L225.38,542.75 L226.88,547.5 L229.38,550.25 L231.25,549.75 L232.75,550.25 L234.0,549.38 L235.62,550.25 L237.5,550.62 L239.75,556.0 L240.62,553.75 L242.5,551.88 L244.75,549.38 L246.5,544.38 L247.88,545.0 L249.38,546.88 L251.25,546.25 L252.5,546.88 L254.38,553.12 L256.5,555.25 L258.5,558.12 L260.0,555.25 L261.88,552.5 L263.5,548.75 L265.0,551.88 L266.88,553.75 L268.5,554.38 L269.75,548.75 L271.25,550.0 L272.5,551.0 L273.75,545.62 L275.62,537.5 L277.5,537.25 L279.0,538.12 L280.62,536.88 L282.25,536.5 L283.5,535.0 L284.75,536.88 L286.25,532.5 L287.5,531.25 L289.0,532.25 L290.62,529.38 L292.5,524.38 L294.38,528.75 L295.62,529.0 L297.5,532.5 L300.0,534.38 L301.5,534.75 L303.12,536.88 L305.0,539.75 L306.88,541.25 L309.38,540.25 L311.0,535.62 L312.5,532.5 L314.12,536.88 L315.62,542.25 L316.88,539.75 L318.75,539.0 L320.0,537.75 L321.88,544.38 L323.75,541.0 L325.62,538.12 L327.25,536.88 L329.0,536.5 L330.62,532.5 L332.5,529.75 L334.38,529.38 L336.25,529.75 L338.5,531.25 L340.0,530.62 L341.88,530.62 L343.5,532.25 L345.62,532.25 L347.25,530.62 L348.75,535.62 L350.62,540.25 L352.5,536.88 L354.0,535.38 L355.62,535.0 L357.5,530.62 L359.38,527.5 L361.25,525.62 L363.12,524.75 L365.0,525.62 L366.5,526.88 L368.12,533.12 L369.75,540.0 L371.25,541.25 L373.12,541.25 L375.0,541.88 L376.5,543.5 L378.5,546.88 L380.62,546.25 L382.5,543.5 L384.0,546.88 L385.62,551.25 L387.5,561.0 L389.38,561.0 L391.0,555.0 L393.12,550.25 L395.0,552.5 L396.5,555.62 L398.12,549.38 L400.0,548.5 L401.5,548.75 L402.75,551.88 L404.38,548.75 L406.0,552.5 L407.5,551.88 L408.75,552.5 L410.25,547.5 L411.88,551.88 L413.75,556.5 L415.25,557.25 L416.5,549.0 L418.5,552.5 L420.62,547.5 L422.5,544.38 L424.38,546.25 L426.5,548.75 L428.5,551.25 L430.25,554.0 L431.88,549.38 L433.75,545.62 L435.62,542.75 L437.25,544.38 L439.75,540.62 L442.25,543.12 L444.38,535.62 L446.88,537.25 L448.5,536.88 L450.0,533.75 L451.5,533.5 L453.12,535.0 L455.0,541.88 L456.88,546.25 L459.38,546.25 L461.25,543.12 L462.5,548.12 L464.0,543.12 L465.62,538.75 L467.5,538.75 L469.0,542.75 L470.62,543.75 L472.25,547.5 L474.0,551.0 L475.62,551.25 L477.5,552.25 L479.38,548.75 L481.25,547.75 L483.75,546.25 L485.62,546.88 L487.25,546.25 L488.75,541.25 L490.25,538.12 L491.88,536.5 L493.5,539.38 L495.0,543.12 L496.25,541.25 L497.75,546.88 L500.0,547.5 L502.25,550.25 L503.75,545.0 L505.25,541.5 L506.88,542.25 L508.38,545.25 L510.0,541.88 L511.5,538.5 L513.12,538.12 L514.75,536.5 L516.25,537.75 L517.75,530.25 L519.38,531.25 L521.0,531.0 L523.12,529.75 L525.0,529.38 L526.88,529.38 L528.5,530.62 L530.0,535.0 L531.88,536.25 L532.75,535.62 L535.0,540.0 L536.5,539.0 L537.5,542.25 L539.0,536.88 L540.62,532.5 L542.5,532.5 L544.0,533.12 L545.62,535.0 L546.88,533.12 L548.12,535.62 L549.38,532.5 L551.0,535.0 L552.5,536.88 L554.38,535.62 L555.62,533.5 L556.88,538.12 L559.38,543.12 L560.62,542.5 L562.25,542.25 L563.75,538.12 L565.25,535.62 L566.5,540.0 L568.5,536.88 L570.0,534.0 L571.5,533.12 L573.12,534.0 L575.0,533.12 L576.5,536.88 L577.75,539.38 L579.38,538.75 L580.62,537.25 L582.25,540.62 L584.0,541.25 L585.62,539.75 L587.5,545.62 L589.38,550.0 L591.0,550.25 L592.75,550.0 L594.38,546.5 L596.0,550.0 L597.5,551.25 L598.75,544.38 L600.0,544.0 L601.88,540.62 L603.5,542.5 L605.0,547.25 L606.5,546.5 L608.5,550.25 L610.62,550.25 L612.25,548.75 L614.0,548.5 L615.62,550.62 L617.5,553.75 L619.38,554.0 L621.25,550.62 L623.12,548.75 L624.75,557.25 L626.25,559.0 L627.75,560.25 L629.38,558.12 L630.62,557.5 L632.25,554.38 L633.75,555.0 L635.62,559.38 L637.25,551.88 L638.75,550.62 L640.25,552.25 L642.25,545.0 L643.75,541.5 L645.62,543.12 L647.25,546.25 L648.12,548.12 L650.0,546.88 L651.25,548.75 L652.5,551.25 L654.38,548.12 L656.25,545.0 L658.12,542.75 L660.62,545.0 L661.88,542.75 L663.12,543.5 L664.38,540.0 L666.88,536.25 L669.38,533.12 L670.62,529.38 L672.25,527.5 L673.75,528.5 L675.62,528.5 L676.5,530.25 L678.75,527.5 L680.62,531.88 L682.25,535.62 L683.75,538.12 L685.0,534.38 L686.5,533.5 L687.75,535.25 L689.38,535.25 L690.0,534.0 L692.25,527.25 L695.25,523.8 L698.25,523.5 L699.75,521.7 L702.0,524.25 L705.0,527.25 L707.7,530.25 L710.25,535.5 L712.5,535.2 L714.0,534.3 L715.5,537.3 L717.0,531.0 L718.8,528.75 L720.0,524.25 L720.0,553.5 Z" fill="#a9d6a9" clip-path="url(#c30)"/>
</g>
<rect x="1" y="523" width="741" height="1" fill="#2020e0"/>
<rect x="1" y="553" width="741" height="1" fill="#2020e0"/>
<path d="M1.25,540.0 L3.12,541.25 L6.25,540.0 L7.25,534.38 L8.75,537.5 L10.0,537.25 L11.88,538.5 L15.0,539.38 L17.25,539.38 L18.5,528.5 L20.62,528.12 L21.88,527.25 L23.12,527.5 L24.38,526.25 L26.88,534.38 L28.75,540.0 L30.62,547.25 L33.12,543.75 L35.62,543.5 L36.5,547.25 L38.12,543.12 L40.0,540.62 L41.88,541.88 L43.75,539.38 L44.75,541.25 L46.5,531.5 L47.75,539.38 L49.38,539.38 L50.62,538.5 L52.25,537.25 L53.75,538.5 L55.62,541.25 L57.5,545.62 L59.38,548.5 L61.25,549.38 L62.5,545.62 L64.38,547.5 L66.25,548.12 L68.75,550.62 L70.0,553.12 L70.88,556.25 L72.5,551.25 L73.75,546.25 L75.38,539.0 L76.5,541.25 L78.12,536.88 L80.0,535.0 L82.25,534.38 L83.5,531.88 L85.38,528.75 L87.5,532.25 L90.0,532.25 L92.5,531.25 L95.0,529.38 L98.12,524.75 L100.0,524.0 L101.25,523.12 L102.5,520.25 L104.0,526.25 L105.62,528.12 L107.75,529.38 L108.75,528.75 L110.25,525.62 L111.5,528.12 L113.75,527.25 L116.5,527.25 L118.5,525.62 L120.62,527.5 L122.5,530.0 L124.0,528.5 L125.62,536.88 L127.75,535.38 L130.0,536.25 L131.88,546.25 L133.38,549.38 L134.62,542.5 L136.88,543.12 L139.12,544.0 L140.62,535.0 L141.88,530.0 L143.12,528.75 L145.62,528.5 L148.12,527.25 L149.38,523.75 L150.62,520.25 L151.88,523.12 L155.0,523.5 L156.5,526.0 L158.75,524.38 L160.62,528.12 L162.5,528.5 L164.0,527.5 L165.88,530.25 L168.12,530.0 L169.38,525.0 L170.62,521.5 L171.88,524.38 L173.75,526.88 L176.0,524.0 L177.5,526.88 L179.38,529.75 L181.0,537.25 L182.5,539.38 L184.38,539.38 L186.25,537.5 L188.12,540.0 L190.0,543.12 L191.62,552.5 L193.12,550.0 L195.0,548.12 L196.25,545.62 L197.5,534.38 L198.75,547.5 L200.0,557.25 L201.88,556.5 L203.75,553.75 L205.25,550.62 L206.88,551.25 L208.5,549.38 L209.75,545.62 L212.5,545.62 L215.0,545.62 L216.25,546.25 L217.5,539.75 L219.38,542.25 L221.0,541.88 L222.25,540.38 L223.75,542.5 L225.38,542.75 L226.88,547.5 L229.38,550.25 L231.25,549.75 L232.75,550.25 L234.0,549.38 L235.62,550.25 L237.5,550.62 L239.75,556.0 L240.62,553.75 L242.5,551.88 L244.75,549.38 L246.5,544.38 L247.88,545.0 L249.38,546.88 L251.25,546.25 L252.5,546.88 L254.38,553.12 L256.5,555.25 L258.5,558.12 L260.0,555.25 L261.88,552.5 L263.5,548.75 L265.0,551.88 L266.88,553.75 L268.5,554.38 L269.75,548.75 L271.25,550.0 L272.5,551.0 L273.75,545.62 L275.62,537.5 L277.5,537.25 L279.0,538.12 L280.62,536.88 L282.25,536.5 L283.5,535.0 L284.75,536.88 L286.25,532.5 L287.5,531.25 L289.0,532.25 L290.62,529.38 L292.5,524.38 L294.38,528.75 L295.62,529.0 L297.5,532.5 L300.0,534.38 L301.5,534.75 L303.12,536.88 L305.0,539.75 L306.88,541.25 L309.38,540.25 L311.0,535.62 L312.5,532.5 L314.12,536.88 L315.62,542.25 L316.88,539.75 L318.75,539.0 L320.0,537.75 L321.88,544.38 L323.75,541.0 L325.62,538.12 L327.25,536.88 L329.0,536.5 L330.62,532.5 L332.5,529.75 L334.38,529.38 L336.25,529.75 L338.5,531.25 L340.0,530.62 L341.88,530.62 L343.5,532.25 L345.62,532.25 L347.25,530.62 L348.75,535.62 L350.62,540.25 L352.5,536.88 L354.0,535.38 L355.62,535.0 L357.5,530.62 L359.38,527.5 L361.25,525.62 L363.12,524.75 L365.0,525.62 L366.5,526.88 L368.12,533.12 L369.75,540.0 L371.25,541.25 L373.12,541.25 L375.0,541.88 L376.5,543.5 L378.5,546.88 L380.62,546.25 L382.5,543.5 L384.0,546.88 L385.62,551.25 L387.5,561.0 L389.38,561.0 L391.0,555.0 L393.12,550.25 L395.0,552.5 L396.5,555.62 L398.12,549.38 L400.0,548.5 L401.5,548.75 L402.75,551.88 L404.38,548.75 L406.0,552.5 L407.5,551.88 L408.75,552.5 L410.25,547.5 L411.88,551.88 L413.75,556.5 L415.25,557.25 L416.5,549.0 L418.5,552.5 L420.62,547.5 L422.5,544.38 L424.38,546.25 L426.5,548.75 L428.5,551.25 L430.25,554.0 L431.88,549.38 L433.75,545.62 L435.62,542.75 L437.25,544.38 L439.75,540.62 L442.25,543.12 L444.38,535.62 L446.88,537.25 L448.5,536.88 L450.0,533.75 L451.5,533.5 L453.12,535.0 L455.0,541.88 L456.88,546.25 L459.38,546.25 L461.25,543.12 L462.5,548.12 L464.0,543.12 L465.62,538.75 L467.5,538.75 L469.0,542.75 L470.62,543.75 L472.25,547.5 L474.0,551.0 L475.62,551.25 L477.5,552.25 L479.38,548.75 L481.25,547.75 L483.75,546.25 L485.62,546.88 L487.25,546.25 L488.75,541.25 L490.25,538.12 L491.88,536.5 L493.5,539.38 L495.0,543.12 L496.25,541.25 L497.75,546.88 L500.0,547.5 L502.25,550.25 L503.75,545.0 L505.25,541.5 L506.88,542.25 L508.38,545.25 L510.0,541.88 L511.5,538.5 L513.12,538.12 L514.75,536.5 L516.25,537.75 L517.75,530.25 L519.38,531.25 L521.0,531.0 L523.12,529.75 L525.0,529.38 L526.88,529.38 L528.5,530.62 L530.0,535.0 L531.88,536.25 L532.75,535.62 L535.0,540.0 L536.5,539.0 L537.5,542.25 L539.0,536.88 L540.62,532.5 L542.5,532.5 L544.0,533.12 L545.62,535.0 L546.88,533.12 L548.12,535.62 L549.38,532.5 L551.0,535.0 L552.5,536.88 L554.38,535.62 L555.62,533.5 L556.88,538.12 L559.38,543.12 L560.62,542.5 L562.25,542.25 L563.75,538.12 L565.25,535.62 L566.5,540.0 L568.5,536.88 L570.0,534.0 L571.5,533.12 L573.12,534.0 L575.0,533.12 L576.5,536.88 L577.75,539.38 L579.38,538.75 L580.62,537.25 L582.25,540.62 L584.0,541.25 L585.62,539.75 L587.5,545.62 L589.38,550.0 L591.0,550.25 L592.75,550.0 L594.38,546.5 L596.0,550.0 L597.5,551.25 L598.75,544.38 L600.0,544.0 L601.88,540.62 L603.5,542.5 L605.0,547.25 L606.5,546.5 L608.5,550.25 L610.62,550.25 L612.25,548.75 L614.0,548.5 L615.62,550.62 L617.5,553.75 L619.38,554.0 L621.25,550.62 L623.12,548.75 L624.75,557.25 L626.25,559.0 L627.75,560.25 L629.38,558.12 L630.62,557.5 L632.25,554.38 L633.75,555.0 L635.62,559.38 L637.25,551.88 L638.75,550.62 L640.25,552.25 L642.25,545.0 L643.75,541.5 L645.62,543.12 L647.25,546.25 L648.12,548.12 L650.0,546.88 L651.25,548.75 L652.5,551.25 L654.38,548.12 L656.25,545.0 L658.12,542.75 L660.62,545.0 L661.88,542.75 L663.12,543.5 L664.38,540.0 L666.88,536.25 L669.38,533.12 L670.62,529.38 L672.25,527.5 L673.75,528.5 L675.62,528.5 L676.5,530.25 L678.75,527.5 L680.62,531.88 L682.25,535.62 L683.75,538.12 L685.0,534.38 L686.5,533.5 L687.75,535.25 L689.38,535.25 L690.0,534.0 L692.25,527.25 L695.25,523.8 L698.25,523.5 L699.75,521.7 L702.0,524.25 L705.0,527.25 L707.7,530.25 L710.25,535.5 L712.5,535.2 L714.0,534.3 L715.5,537.3 L717.0,531.0 L718.8,528.75 L720.0,524.25" fill="none" stroke="#000" stroke-width="1.1" stroke-linejoin="round" shape-rendering="geometricPrecision"/>
<rect x="0" y="0" width="1" height="600" fill="#909fa7"/>
<rect x="799" y="0" width="1" height="600" fill="#909fa7"/>
<rect x="0" y="599" width="800" height="1" fill="#909fa7"/>
<rect x="743" y="476" width="2" height="1" fill="#8d999f"/>
<rect x="743" y="458" width="4" height="1" fill="#8d999f"/>
<rect x="743" y="439" width="2" height="1" fill="#8d999f"/>
<rect x="743" y="422" width="4" height="1" fill="#8d999f"/>
<rect x="743" y="404" width="2" height="1" fill="#8d999f"/>
<rect x="743" y="386" width="4" height="1" fill="#8d999f"/>
<rect x="743" y="369" width="2" height="1" fill="#8d999f"/>
<rect x="743" y="352" width="4" height="1" fill="#8d999f"/>
<rect x="743" y="335" width="2" height="1" fill="#8d999f"/>
<rect x="743" y="318" width="4" height="1" fill="#8d999f"/>
<rect x="743" y="302" width="2" height="1" fill="#8d999f"/>
<rect x="743" y="286" width="4" height="1" fill="#8d999f"/>
<rect x="743" y="269" width="2" height="1" fill="#8d999f"/>
<rect x="743" y="253" width="4" height="1" fill="#8d999f"/>
<rect x="743" y="237" width="2" height="1" fill="#8d999f"/>
<rect x="743" y="222" width="4" height="1" fill="#8d999f"/>
<rect x="743" y="206" width="2" height="1" fill="#8d999f"/>
<rect x="743" y="191" width="4" height="1" fill="#8d999f"/>
<rect x="743" y="175" width="2" height="1" fill="#8d999f"/>
<rect x="743" y="160" width="4" height="1" fill="#8d999f"/>
<rect x="743" y="145" width="2" height="1" fill="#8d999f"/>
<rect x="743" y="130" width="4" height="1" fill="#8d999f"/>
<rect x="743" y="116" width="2" height="1" fill="#8d999f"/>
<rect x="743" y="101" width="4" height="1" fill="#8d999f"/>
<rect x="743" y="87" width="2" height="1" fill="#8d999f"/>
<rect x="743" y="72" width="4" height="1" fill="#8d999f"/>
<rect x="743" y="58" width="2" height="1" fill="#8d999f"/>
<rect x="743" y="44" width="4" height="1" fill="#8d999f"/>
<rect x="743" y="30" width="2" height="1" fill="#8d999f"/>
<rect x="743" y="501" width="4" height="1" fill="#8d999f"/>
<rect x="743" y="538" width="4" height="1" fill="#8d999f"/>
<rect x="743" y="575" width="4" height="1" fill="#8d999f"/>
<rect x="23" y="580" width="1" height="4" fill="#8d999f"/>
<rect x="52" y="580" width="1" height="4" fill="#8d999f"/>
<rect x="81" y="580" width="1" height="4" fill="#8d999f"/>
<rect x="118" y="580" width="1" height="4" fill="#8d999f"/>
<rect x="147" y="580" width="1" height="4" fill="#8d999f"/>
<rect x="176" y="580" width="1" height="4" fill="#8d999f"/>
<rect x="213" y="580" width="1" height="4" fill="#8d999f"/>
<rect x="242" y="580" width="1" height="4" fill="#8d999f"/>
<rect x="271" y="580" width="1" height="4" fill="#8d999f"/>
<rect x="307" y="580" width="1" height="4" fill="#8d999f"/>
<rect x="337" y="580" width="1" height="4" fill="#8d999f"/>
<rect x="382" y="580" width="1" height="4" fill="#8d999f"/>
<rect x="430" y="580" width="1" height="4" fill="#8d999f"/>
<rect x="459" y="580" width="1" height="4" fill="#8d999f"/>
<rect x="488" y="580" width="1" height="4" fill="#8d999f"/>
<rect x="525" y="580" width="1" height="4" fill="#8d999f"/>
<rect x="574" y="580" width="1" height="4" fill="#8d999f"/>
<rect x="620" y="580" width="1" height="4" fill="#8d999f"/>
<rect x="649" y="580" width="1" height="4" fill="#8d999f"/>
<rect x="678" y="580" width="1" height="4" fill="#8d999f"/>
<rect x="715" y="580" width="1" height="4" fill="#8d999f"/>
<g shape-rendering="auto" fill="#000">
<text x="17.4" y="595.7" font-size="10.5" textLength="11.4" lengthAdjust="spacingAndGlyphs">08</text>
<text x="46.4" y="595.7" font-size="10.5" textLength="11.4" lengthAdjust="spacingAndGlyphs">12</text>
<text x="75.4" y="595.7" font-size="10.5" textLength="11.4" lengthAdjust="spacingAndGlyphs">17</text>
<text x="112.4" y="595.7" font-size="10.5" textLength="11.4" lengthAdjust="spacingAndGlyphs">22</text>
<text x="141.4" y="595.7" font-size="10.5" textLength="11.4" lengthAdjust="spacingAndGlyphs">26</text>
<text x="165.45" y="595.7" font-size="12" font-weight="bold" textLength="21.3" lengthAdjust="spacingAndGlyphs">Dec</text>
<text x="207.4" y="595.7" font-size="10.5" textLength="11.4" lengthAdjust="spacingAndGlyphs">06</text>
<text x="236.4" y="595.7" font-size="10.5" textLength="11.4" lengthAdjust="spacingAndGlyphs">10</text>
<text x="265.4" y="595.7" font-size="10.5" textLength="11.4" lengthAdjust="spacingAndGlyphs">15</text>
<text x="301.4" y="595.7" font-size="10.5" textLength="11.4" lengthAdjust="spacingAndGlyphs">20</text>
<text x="331.4" y="595.7" font-size="10.5" textLength="11.4" lengthAdjust="spacingAndGlyphs">24</text>
<text x="368.65" y="595.7" font-size="12" font-weight="bold" textLength="26.9" lengthAdjust="spacingAndGlyphs">2016</text>
<text x="424.4" y="595.7" font-size="10.5" textLength="11.4" lengthAdjust="spacingAndGlyphs">10</text>
<text x="453.4" y="595.7" font-size="10.5" textLength="11.4" lengthAdjust="spacingAndGlyphs">14</text>
<text x="482.4" y="595.7" font-size="10.5" textLength="11.4" lengthAdjust="spacingAndGlyphs">19</text>
<text x="519.4" y="595.7" font-size="10.5" textLength="11.4" lengthAdjust="spacingAndGlyphs">24</text>
<text x="564.0" y="595.7" font-size="12" font-weight="bold" textLength="20.2" lengthAdjust="spacingAndGlyphs">Feb</text>
<text x="614.4" y="595.7" font-size="10.5" textLength="11.4" lengthAdjust="spacingAndGlyphs">07</text>
<text x="643.4" y="595.7" font-size="10.5" textLength="11.4" lengthAdjust="spacingAndGlyphs">11</text>
<text x="672.4" y="595.7" font-size="10.5" textLength="11.4" lengthAdjust="spacingAndGlyphs">16</text>
<text x="709.4" y="595.7" font-size="10.5" textLength="11.4" lengthAdjust="spacingAndGlyphs">21</text>
<text x="750" y="461.7" font-size="10.5" textLength="25.3" lengthAdjust="spacingAndGlyphs">8,800</text>
<text x="750" y="425.9" font-size="12" font-weight="bold" textLength="29.8" lengthAdjust="spacingAndGlyphs">9,000</text>
<text x="750" y="389.7" font-size="10.5" textLength="25.3" lengthAdjust="spacingAndGlyphs">9,200</text>
<text x="750" y="355.7" font-size="10.5" textLength="25.3" lengthAdjust="spacingAndGlyphs">9,400</text>
<text x="750" y="289.7" font-size="10.5" textLength="25.3" lengthAdjust="spacingAndGlyphs">9,800</text>
<text x="750" y="256.9" font-size="12" font-weight="bold" textLength="36.4" lengthAdjust="spacingAndGlyphs">10,000</text>
<text x="750" y="225.7" font-size="10.5" textLength="31.5" lengthAdjust="spacingAndGlyphs">10,200</text>
<text x="750" y="194.7" font-size="10.5" textLength="31.5" lengthAdjust="spacingAndGlyphs">10,400</text>
<text x="750" y="163.7" font-size="10.5" textLength="31.5" lengthAdjust="spacingAndGlyphs">10,600</text>
<text x="750" y="133.7" font-size="10.5" textLength="31.5" lengthAdjust="spacingAndGlyphs">10,800</text>
<text x="750" y="104.9" font-size="12" font-weight="bold" textLength="36.4" lengthAdjust="spacingAndGlyphs">11,000</text>
<text x="750" y="75.7" font-size="10.5" textLength="31.5" lengthAdjust="spacingAndGlyphs">11,200</text>
<text x="750" y="506.5" font-size="12" font-weight="bold" textLength="19.5" lengthAdjust="spacingAndGlyphs">100</text>
<text x="750" y="542.3" font-size="10.5" textLength="10.6" lengthAdjust="spacingAndGlyphs">50</text>
<text x="748.8" y="577.3" font-size="12" font-weight="bold">0</text>
<rect x="743" y="322" width="4" height="1" fill="#000"/>
<rect x="747.5" y="314.5" width="39" height="15" fill="url(#yg)" stroke="#a0a69a" stroke-width="1"/>
<text x="749.2" y="326" font-size="10.5" textLength="35.3" lengthAdjust="spacingAndGlyphs">9,576.0</text>
<rect x="743" y="523" width="4" height="1" fill="#000"/>
<rect x="747.5" y="516.5" width="36" height="15" fill="#f0f2f4" stroke="#a0a8ae" stroke-width="1"/>
<text x="749.5" y="528" font-size="10.5" textLength="32" lengthAdjust="spacingAndGlyphs">68.124</text>
<rect x="1" y="21" width="29" height="14" fill="url(#lg)"/>
<rect x="29" y="21" width="1" height="14" fill="#9aa8b0"/>
<rect x="1" y="34" width="29" height="1" fill="#9aa8b0"/>
<text x="3.2" y="30.8" font-size="10.8" textLength="23.8" lengthAdjust="spacingAndGlyphs">Price</text>
<rect x="1" y="497" width="44" height="14" fill="url(#lg)"/>
<rect x="44" y="497" width="1" height="14" fill="#9aa8b0"/>
<rect x="1" y="510" width="44" height="1" fill="#9aa8b0"/>
<text x="3.1" y="506.9" font-size="10.8" textLength="37.5" lengthAdjust="spacingAndGlyphs">RSI (14)</text>
<text x="3" y="490.8" font-size="10.8" textLength="84" lengthAdjust="spacingAndGlyphs">© IT-Finance.com</text>
<rect x="6" y="8" width="1" height="11" fill="#c83030"/>
<rect x="3.5" y="10.5" width="6" height="6" fill="#f08080" stroke="#c83030" stroke-width="1"/>
<rect x="14" y="3" width="1" height="16" fill="#109010"/>
<rect x="11.5" y="6.5" width="6" height="9" fill="#60e060" stroke="#109010" stroke-width="1"/>
<text x="22.9" y="15.2" font-size="12" font-weight="bold" textLength="110.3" lengthAdjust="spacingAndGlyphs">Germany 30 Cash (-)</text>
<text x="143.1" y="15.2" font-size="12" font-weight="bold" textLength="40.7" lengthAdjust="spacingAndGlyphs">4 hours</text>
<text x="194.3" y="15.2" font-size="12" font-weight="bold" textLength="82.2" lengthAdjust="spacingAndGlyphs">9,576.0 (+2.62%)</text>
<text x="286.7" y="15.2" font-size="12" font-weight="bold" textLength="40.7" lengthAdjust="spacingAndGlyphs">10:03:36</text>
<text x="714" y="15.2" font-size="12" font-weight="bold" textLength="83" lengthAdjust="spacingAndGlyphs">IT-Finance.com</text>
</g>
</svg>
</body></html>
